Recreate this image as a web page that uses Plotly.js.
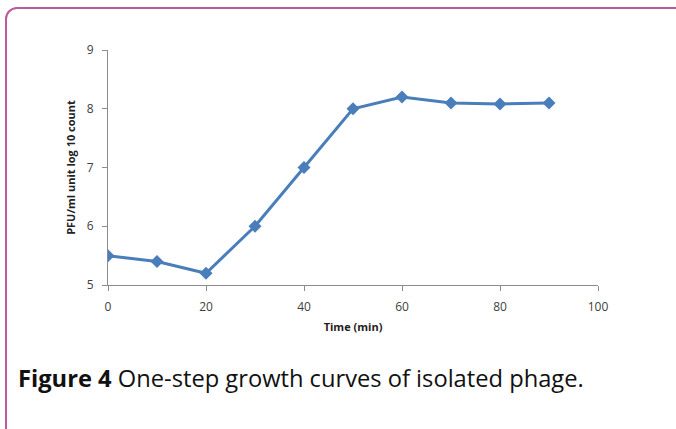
<!DOCTYPE html>
<html>
<head>
<meta charset="utf-8">
<script src="https://cdn.plot.ly/plotly-3.0.1.min.js"></script>
<style>
html,body{margin:0;padding:0;background:#fff;overflow:hidden;}
#frame{position:absolute;left:5px;top:7px;width:690px;height:440px;border:2px solid #bd5a9c;border-radius:12px;box-sizing:border-box;}
#chart{position:absolute;left:0;top:0;width:676px;height:429px;}
</style>
</head>
<body>
<div id="frame"></div>
<div id="chart"></div>
<script>
const timeMin = [0, 10, 20, 30, 40, 50, 60, 70, 80, 90];
const pfuLog = [5.5, 5.4, 5.2, 6.0, 7.0, 8.0, 8.2, 8.1, 8.08, 8.1];
const xTicks = [0, 20, 40, 60, 80, 100];
const yTicks = [5, 6, 7, 8, 9];

const trace = {
  x: timeMin, y: pfuLog, type: 'scatter', mode: 'lines+markers',
  line: {color: '#4a7ebb', width: 3},
  marker: {symbol: 'diamond', size: 10, color: '#4a7ebb'},
  hoverinfo: 'skip'
};

const layout = {
  width: 676, height: 429,
  margin: {l: 108, r: 78, t: 50, b: 144},
  paper_bgcolor: 'rgba(0,0,0,0)', plot_bgcolor: 'rgba(0,0,0,0)',
  showlegend: false,
  font: {family: 'Open Sans, sans-serif', color: '#404040'},
  xaxis: {
    range: [0, 100], tickvals: xTicks, ticktext: xTicks.map(String),
    showgrid: false, zeroline: false, showline: true, linecolor: '#8c8c8c', linewidth: 1,
    ticks: 'outside', ticklen: 5, tickcolor: '#8c8c8c', ticklabelstandoff: 6,
    tickfont: {size: 12, color: '#404040'},
    title: {text: '<b>Time (min)</b>', font: {size: 11, color: '#222'}, standoff: 8}
  },
  yaxis: {
    range: [5, 9], tickvals: yTicks, ticktext: yTicks.map(String),
    showgrid: false, zeroline: false, showline: true, linecolor: '#8c8c8c', linewidth: 1,
    ticks: 'outside', ticklen: 5, tickcolor: '#8c8c8c', ticklabelstandoff: 6,
    tickfont: {size: 12, color: '#404040'},
    title: {text: '<b>PFU/ml unit log 10 count</b>', font: {size: 11, color: '#222'}, standoff: 8}
  },
  annotations: [{
    xref: 'paper', yref: 'paper', x: -0.187, y: -0.395, xanchor: 'left', yanchor: 'middle',
    text: '<b>Figure 4</b> One-step growth curves of isolated phage.',
    showarrow: false, font: {family: 'Open Sans, sans-serif', size: 23.7, color: '#111'}
  }]
};

Plotly.newPlot('chart', [trace], layout, {displayModeBar: false, staticPlot: true});
</script>
</body>
</html>
